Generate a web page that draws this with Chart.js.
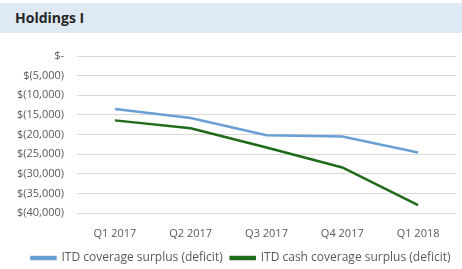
<!DOCTYPE html>
<html>
<head>
<meta charset="utf-8">
<script src="https://cdn.jsdelivr.net/npm/chart.js@4.4.1/dist/chart.umd.min.js"></script>
<style>
  html, body { margin: 0; padding: 0; background: #fff; }
  #wrap { position: relative; width: 462px; height: 269px; overflow: hidden; }
  #head {
    position: absolute; left: 0; top: 3px; width: 462px; height: 30px;
    background: #dfe9f3;
    font: bold 14px "Open Sans", sans-serif; color: #262626;
    line-height: 30px; padding-left: 15px; box-sizing: border-box;
  }
  #box { position: absolute; left: 0; top: 33px; width: 462px; height: 236px; }
</style>
</head>
<body>
<div id="wrap">
  <div id="head">Holdings I</div>
  <div id="box"><canvas id="chart"></canvas></div>
</div>
<script>
// quarters on the x axis
const quarters = ['Q1 2017', 'Q2 2017', 'Q3 2017', 'Q4 2017', 'Q1 2018'];

// series values (USD)
const coverageSurplus = [-13500, -15800, -20200, -20500, -24600];
const cashCoverageSurplus = [-16400, -18400, -23300, -28400, -38000];

// y axis range / step
const yMin = -40000;
const yMax = 0;
const yStep = 5000;

function money(v) {
  if (v === 0) return '$-';
  const s = Math.abs(v).toLocaleString('en-US');
  return v < 0 ? '$(' + s + ')' : '$' + s;
}

const txt = '#595959';

// the legend in the original sits a bit right of centre and lower
const nudgeLegend = {
  id: 'nudgeLegend',
  afterLayout(chart) {
    const lg = chart.legend;
    if (lg) {
      lg.left += 13;
      lg.right += 13;
      lg.top += 5;
      lg.bottom += 5;
    }
  }
};

new Chart(document.getElementById('chart'), {
  type: 'line',
  data: {
    labels: quarters,
    datasets: [
      {
        label: 'ITD coverage surplus (deficit)',
        data: coverageSurplus,
        borderColor: '#6a9fd3',
        backgroundColor: '#6a9fd3',
        borderWidth: 2.5,
        pointRadius: 0,
        tension: 0
      },
      {
        label: 'ITD cash coverage surplus (deficit)',
        data: cashCoverageSurplus,
        borderColor: '#1e6b1a',
        backgroundColor: '#1e6b1a',
        borderWidth: 2.5,
        pointRadius: 0,
        tension: 0
      }
    ]
  },
  plugins: [nudgeLegend],
  options: {
    responsive: true,
    maintainAspectRatio: false,
    animation: false,
    layout: { padding: { left: 0, right: 6, top: 23, bottom: 0 } },
    plugins: {
      tooltip: { enabled: false },
      legend: {
        position: 'bottom',
        labels: {
          color: txt,
          font: { family: 'Open Sans', size: 12 },
          boxWidth: 24,
          boxHeight: 2,
          padding: 8
        }
      }
    },
    scales: {
      x: {
        offset: true,
        grid: { display: false, drawTicks: false },
        border: { display: false },
        ticks: {
          color: txt,
          font: { family: 'Open Sans', size: 11 },
          padding: 14,
          maxRotation: 0
        },
        afterFit: function(scale) { scale.height = 26; }
      },
      y: {
        min: yMin,
        max: yMax,
        grid: { color: '#d9d9d9', drawTicks: false, lineWidth: 1 },
        border: { display: false },
        ticks: {
          stepSize: yStep,
          color: txt,
          font: { family: 'Open Sans', size: 11 },
          padding: 13,
          callback: function(v) { return money(v); }
        },
        afterFit: function(scale) { scale.width = 77; }
      }
    }
  }
});
</script>
</body>
</html>
